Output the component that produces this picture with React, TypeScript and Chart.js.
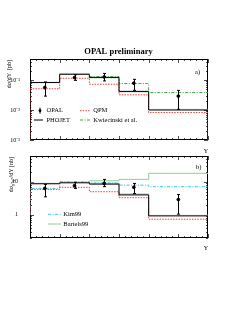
import React, { useEffect, useRef } from 'react';
import { Chart, registerables } from 'chart.js';
Chart.register(...registerables);

const FONT = '"Liberation Serif", "Times New Roman", serif';

// ---------------- data ----------------
const binEdges = [0, 1, 2, 3, 4, 6];
const tailEdges = [2, 3, 4, 6];
const xTickValues = [0, 1, 2, 3, 4, 5, 6];
const opalX = [0.5, 1.5, 2.5, 3.5, 5];

// panel a)  dσ/dY [pb]
const opalA = [0.056, 0.12, 0.126, 0.078, 0.029];
const opalALo = [0.029, 0.097, 0.093, 0.045, 0.0105];
const opalAHi = [0.086, 0.15, 0.165, 0.105, 0.045];
const phojetA = [0.082, 0.155, 0.12, 0.041, 0.01];
const phojetBandA = [0.086, 0.167, 0.129, 0.045, 0.0106];
const qpmA = [0.051, 0.114, 0.072, 0.032, 0.0082];
const kwiecinskiA = [0.13, 0.076, 0.038];
const yMinA = 0.001;
const yMaxA = 0.5;
const yTickValsA = [0.001, 0.01, 0.1];
const yTickLabelsA = ['10⁻³', '10⁻²', '10⁻¹'];

// panel b)  dσγ*γ*/dY [nb]
const opalB = [6.3, 7.6, 8.9, 6.8, 2.9];
const opalBLo = [3.5, 6.3, 7.1, 4.4, 1.05];
const opalBHi = [8.3, 9.6, 11.8, 8.9, 4.1];
const phojetB = [8.7, 9.3, 8.5, 4.0, 0.93];
const phojetBandB = [9.2, 9.9, 9.1, 4.4, 0.98];
const qpmB = [5.9, 6.8, 5.0, 3.3, 0.74];
const kim99B = [6.3, 10, 9.2, 7.9, 7.1];
const bartels99B = [10.7, 11.8, 18];
const yMinB = 0.2;
const yMaxB = 60;
const yTickValsB = [1, 10];
const yTickLabelsB = ['1', '10'];
const startB = 1;

// ---------------- helpers ----------------
type Pt = { x: number; y: number };
function steps(edges: number[], vals: number[], start?: number, end?: number): Pt[] {
  const pts: Pt[] = edges.slice(0, -1).map((e, i) => ({ x: e, y: vals[i] }));
  pts.push({ x: edges[edges.length - 1], y: vals[vals.length - 1] });
  if (start !== undefined) pts.unshift({ x: edges[0], y: start });
  if (end !== undefined) pts.push({ x: edges[edges.length - 1], y: end });
  return pts;
}

const RED = '#e8443a';
const GREEN = '#3aa83a';
const CYAN = '#33c8f0';
const LGREEN = '#8fcf8f';
const GRAY = '#cfcfcf';

function hist(label: string, data: Pt[], color: string, dash: number[], order: number, extra: any = {}) {
  return {
    label,
    data,
    stepped: true,
    borderColor: color,
    backgroundColor: color,
    borderWidth: 1,
    borderDash: dash,
    pointRadius: 0,
    fill: false,
    order,
    ...extra,
  };
}

type LegendItem = { kind: 'marker' | 'line'; color: string; dash?: number[]; x0: number; x1: number; y: number; tx: number; text: string };

interface Deco {
  tag: string;
  tagX: number;
  tagY: number;
  yTitle: { parts: { t: string; sub?: boolean }[]; x: number; yTop: number };
  legend: LegendItem[];
  errs: { x: number[]; lo: number[]; hi: number[] };
  title?: { text: string; x: number; y: number };
  yLabelPos: { x: number; y: number };
}

function decoPlugin(d: Deco) {
  return {
    id: 'deco',
    beforeDatasetsDraw(chart: any) {
      const { ctx, chartArea: a, scales } = chart;
      const xs = scales.x;
      const ys = scales.y;
      ctx.save();
      ctx.strokeStyle = '#000';
      ctx.lineWidth = 1;
      ctx.strokeRect(Math.round(a.left) + 0.5, Math.round(a.top) + 0.5, Math.round(a.right - a.left) - 1, Math.round(a.bottom - a.top) - 1);
      ctx.lineWidth = 0.7;
      ctx.beginPath();
      for (let i = 0; i <= 30; i++) {
        const v = i * 0.2;
        const px = Math.round(xs.getPixelForValue(v)) + 0.5;
        const len = i % 5 === 0 ? 4 : 2;
        ctx.moveTo(px, a.bottom);
        ctx.lineTo(px, a.bottom - len);
        ctx.moveTo(px, a.top);
        ctx.lineTo(px, a.top + len);
      }
      const lo = Math.floor(Math.log10(ys.min));
      const hi = Math.ceil(Math.log10(ys.max));
      for (let dcd = lo; dcd <= hi; dcd++) {
        for (let k = 1; k <= 9; k++) {
          const v = k * Math.pow(10, dcd);
          if (v < ys.min * 0.999 || v > ys.max * 1.001) continue;
          const py = Math.round(ys.getPixelForValue(v)) + 0.5;
          const len = k === 1 ? 4 : 2;
          ctx.moveTo(a.left, py);
          ctx.lineTo(a.left + len, py);
          ctx.moveTo(a.right, py);
          ctx.lineTo(a.right - len, py);
        }
      }
      ctx.stroke();
      ctx.restore();
    },
    afterDatasetsDraw(chart: any) {
      const { ctx, scales } = chart;
      const xs = scales.x;
      const ys = scales.y;
      ctx.save();
      // error bars
      ctx.strokeStyle = '#000';
      ctx.lineWidth = 1;
      ctx.beginPath();
      d.errs.x.forEach((xv, i) => {
        const px = Math.round(xs.getPixelForValue(xv)) + 0.5;
        const p1 = ys.getPixelForValue(d.errs.lo[i]);
        const p2 = ys.getPixelForValue(d.errs.hi[i]);
        ctx.moveTo(px, p1);
        ctx.lineTo(px, p2);
        ctx.moveTo(px - 1.5, p1);
        ctx.lineTo(px + 1.5, p1);
        ctx.moveTo(px - 1.5, p2);
        ctx.lineTo(px + 1.5, p2);
      });
      ctx.stroke();
      // legend
      ctx.font = `6.5px ${FONT}`;
      ctx.textBaseline = 'middle';
      ctx.textAlign = 'left';
      d.legend.forEach((it) => {
        ctx.strokeStyle = it.color;
        ctx.fillStyle = it.color;
        if (it.kind === 'marker') {
          const cx = (it.x0 + it.x1) / 2;
          ctx.beginPath();
          ctx.arc(cx, it.y, 1.4, 0, Math.PI * 2);
          ctx.fill();
          ctx.beginPath();
          ctx.setLineDash([]);
          ctx.moveTo(cx, it.y - 3);
          ctx.lineTo(cx, it.y + 3);
          ctx.stroke();
        } else {
          ctx.beginPath();
          ctx.setLineDash(it.dash || []);
          ctx.lineWidth = 1;
          ctx.moveTo(it.x0, it.y);
          ctx.lineTo(it.x1, it.y);
          ctx.stroke();
          ctx.setLineDash([]);
        }
        ctx.fillStyle = '#000';
        ctx.fillText(it.text, it.tx, it.y);
      });
      // panel tag
      ctx.font = `6.5px ${FONT}`;
      ctx.fillStyle = '#000';
      ctx.fillText(d.tag, d.tagX, d.tagY);
      // x axis title
      ctx.font = `6px ${FONT}`;
      ctx.textAlign = 'center';
      ctx.fillText('Y', d.yLabelPos.x, d.yLabelPos.y);
      // y axis title (rotated)
      ctx.translate(d.yTitle.x, d.yTitle.yTop);
      ctx.rotate(-Math.PI / 2);
      const widths = d.yTitle.parts.map((p) => {
        ctx.font = `${p.sub ? 4.5 : 6}px ${FONT}`;
        return ctx.measureText(p.t).width;
      });
      const total = widths.reduce((s, w) => s + w, 0);
      let cx = -total;
      ctx.textAlign = 'left';
      d.yTitle.parts.forEach((p, i) => {
        ctx.font = `${p.sub ? 4.5 : 6}px ${FONT}`;
        ctx.fillText(p.t, cx, p.sub ? 1.8 : 0);
        cx += widths[i];
      });
      ctx.setTransform(1, 0, 0, 1, 0, 0);
      if (d.title) {
        ctx.font = `bold 8.5px ${FONT}`;
        ctx.textAlign = 'center';
        ctx.fillText(d.title.text, d.title.x, d.title.y);
      }
      ctx.restore();
    },
  };
}

function makeOptions(yMin: number, yMax: number, tickVals: number[], tickLabels: string[], pad: any, labelPad: number) {
  return {
    animation: false,
    responsive: false,
    devicePixelRatio: 1,
    layout: { padding: pad },
    plugins: { legend: { display: false }, tooltip: { enabled: false }, title: { display: false } },
    scales: {
      x: {
        type: 'linear',
        min: 0,
        max: 6,
        afterBuildTicks: (s: any) => {
          s.ticks = xTickValues.map((v) => ({ value: v }));
        },
        afterFit: (s: any) => {
          s.height = 10;
        },
        grid: { display: false },
        border: { display: false },
        ticks: {
          font: { family: FONT, size: 6 },
          color: '#000',
          padding: 1,
          maxRotation: 0,
          autoSkip: false,
          callback: (v: number) => String(v),
        },
      },
      y: {
        type: 'logarithmic',
        min: yMin,
        max: yMax,
        afterBuildTicks: (s: any) => {
          s.ticks = tickVals.map((v) => ({ value: v }));
        },
        afterFit: (s: any) => {
          s.width = 22;
        },
        grid: { display: false },
        border: { display: false },
        ticks: {
          font: { family: FONT, size: 6 },
          color: '#000',
          padding: labelPad,
          autoSkip: false,
          callback: (v: number) => {
            const i = tickVals.findIndex((t) => Math.abs(t - v) / t < 1e-6);
            return i >= 0 ? tickLabels[i] : '';
          },
        },
      },
    },
  };
}

function opalDataset(vals: number[]) {
  return {
    label: 'OPAL',
    data: opalX.map((x, i) => ({ x, y: vals[i] })),
    showLine: false,
    pointRadius: 1.4,
    pointBackgroundColor: '#000',
    pointBorderColor: '#000',
    borderColor: '#000',
    backgroundColor: '#000',
    order: 0,
  };
}

export default function App() {
  const topRef = useRef<HTMLCanvasElement>(null);
  const botRef = useRef<HTMLCanvasElement>(null);

  useEffect(() => {
    const W = 245;
    const H = 317;
    const chartA = new Chart(topRef.current as HTMLCanvasElement, {
      type: 'line',
      data: {
        datasets: [
          opalDataset(opalA),
          hist('PHOJET', steps(binEdges, phojetA), '#000', [], 1),
          hist('QPM', steps(binEdges, qpmA, yMinA, yMinA), RED, [1.5, 1.2], 2),
          hist('Kwiecinski et al.', steps(tailEdges, kwiecinskiA), GREEN, [3, 1.5, 1, 1.5], 3),
          hist('PHOJET band', steps(binEdges, phojetBandA), GRAY, [], 10, {
            fill: { target: 1 },
            backgroundColor: GRAY,
            borderWidth: 0.5,
          }),
        ],
      },
      options: makeOptions(yMinA, yMaxA, yTickValsA, yTickLabelsA, { left: 8, right: W - 208, top: 59, bottom: H - 140 - 10 }, 2) as any,
      plugins: [
        decoPlugin({
          tag: 'a)',
          tagX: 195,
          tagY: 72,
          yTitle: { parts: [{ t: 'dσ/dY  [pb]' }], x: 9, yTop: 60 },
          legend: [
            { kind: 'marker', color: '#000', x0: 37, x1: 43, y: 110.7, tx: 46.5, text: 'OPAL' },
            { kind: 'line', color: '#000', x0: 34, x1: 43, y: 120, tx: 46.5, text: 'PHOJET' },
            { kind: 'line', color: RED, dash: [1.5, 1.2], x0: 80, x1: 90, y: 110.7, tx: 93.3, text: 'QPM' },
            { kind: 'line', color: GREEN, dash: [3, 1.5, 1, 1.5], x0: 80, x1: 90, y: 120, tx: 93.3, text: 'Kwiecinski et al.' },
          ],
          errs: { x: opalX, lo: opalALo, hi: opalAHi },
          title: { text: 'OPAL preliminary', x: 118.5, y: 51.5 },
          yLabelPos: { x: 206, y: 151 },
        }) as any,
      ],
    });

    const chartB = new Chart(botRef.current as HTMLCanvasElement, {
      type: 'line',
      data: {
        datasets: [
          opalDataset(opalB),
          hist('PHOJET', steps(binEdges, phojetB), '#000', [], 1),
          hist('QPM', steps(binEdges, qpmB, startB), RED, [1.5, 1.2], 2),
          hist('Kim99', steps(binEdges, kim99B, startB), CYAN, [3, 1.5, 1, 1.5], 3),
          hist('Bartels99', steps(tailEdges, bartels99B), LGREEN, [], 4),
          hist('PHOJET band', steps(binEdges, phojetBandB), GRAY, [], 10, {
            fill: { target: 1 },
            backgroundColor: GRAY,
            borderWidth: 0.5,
          }),
        ],
      },
      options: makeOptions(yMinB, yMaxB, yTickValsB, yTickLabelsB, { left: 8, right: W - 208, top: 156, bottom: H - 238 - 10 }, 4) as any,
      plugins: [
        decoPlugin({
          tag: 'b)',
          tagX: 196,
          tagY: 167,
          yTitle: { parts: [{ t: 'dσ' }, { t: 'γ*γ*', sub: true }, { t: '/dY [nb]' }], x: 11, yTop: 157 },
          legend: [
            { kind: 'line', color: CYAN, dash: [3, 1.5, 1, 1.5], x0: 48, x1: 61, y: 214.3, tx: 63.3, text: 'Kim99' },
            { kind: 'line', color: LGREEN, x0: 48, x1: 61, y: 224, tx: 63.3, text: 'Bartels99' },
          ],
          errs: { x: opalX, lo: opalBLo, hi: opalBHi },
          yLabelPos: { x: 206, y: 248 },
        }) as any,
      ],
    });

    return () => {
      chartA.destroy();
      chartB.destroy();
    };
  }, []);

  const cStyle: React.CSSProperties = { position: 'absolute', left: 0, top: 0, width: 245, height: 317 };
  return (
    <div style={{ position: 'absolute', left: 0, top: 0, width: 245, height: 317, background: '#fff' }}>
      <canvas ref={topRef} width={245} height={317} style={cStyle} />
      <canvas ref={botRef} width={245} height={317} style={cStyle} />
    </div>
  );
}
